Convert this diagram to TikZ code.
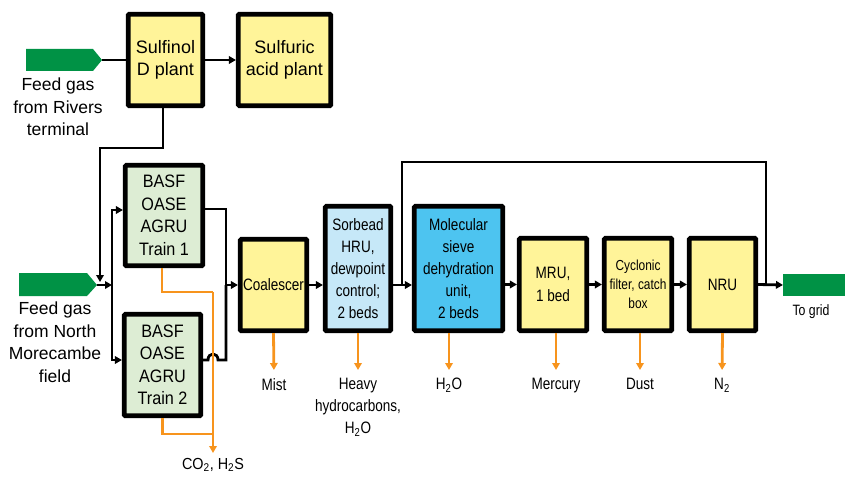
\documentclass[tikz,border=0pt]{standalone}
\usepackage{fontspec}
\setmainfont{Liberation Sans}
\newfontfamily\condf{Liberation Sans}[FakeStretch=0.82]
\newfontfamily\semif{Liberation Sans}[FakeStretch=0.9]
\usetikzlibrary{arrows.meta}
\definecolor{yel}{RGB}{255,244,153}
\definecolor{lgrn}{RGB}{221,237,212}
\definecolor{lblue}{RGB}{198,232,248}
\definecolor{mblue}{RGB}{77,196,240}
\definecolor{feedgreen}{RGB}{0,146,69}
\definecolor{orng}{RGB}{247,148,29}
\begin{document}
\begin{tikzpicture}[x=1pt,y=-1pt,
  box/.style={draw=black, line width=4.6pt, rounded corners=1pt, align=center, inner sep=0pt},
  topfont/.style={font=\fontsize{18}{22.5}\selectfont},
  basffont/.style={font=\semif\fontsize{18}{22.5}\selectfont},
  lowfont/.style={font=\condf\fontsize{16.5}{22.2}\selectfont},
  smallfont/.style={font=\condf\fontsize{14.5}{19}\selectfont},
  lbl/.style={lowfont, align=center, inner sep=0pt, anchor=north},
  feedlbl/.style={font=\fontsize{17.5}{22.5}\selectfont, align=center, inner sep=0pt},
  ln/.style={line width=2.8pt},
  arr/.style={ln, -{Triangle[length=7pt,width=7.5pt]}},
  oline/.style={draw=orng, line width=2.8pt},
  oarr/.style={oline, -{Triangle[length=7pt,width=7.5pt]}, shorten >=8pt},
]
\useasboundingbox (0,0) rectangle (845,476);

% feed arrows (green)
\fill[feedgreen] (26,49) -- (93,49) -- (102,60) -- (93,71) -- (26,71) -- cycle;
\coordinate (rivtip) at (102,60);
\fill[feedgreen] (19,273) -- (87,273) -- (97,285) -- (87,296) -- (19,296) -- cycle;
\coordinate (nortip) at (97,285);
\fill[feedgreen] (783,274) rectangle (846,296);
\coordinate (gridtip) at (783,285);

\node[feedlbl] (rivlbl) at (58,107) {Feed gas\\from Rivers\\terminal};
\node[feedlbl] (norlbl) at (55,342) {Feed gas\\from North\\Morecambe\\field};
\node[font=\condf\fontsize{15}{18}\selectfont, inner sep=0pt] (gridlbl) at (811,312) {To grid};

% boxes
\node[box, topfont, fill=yel, minimum width=74.5pt, minimum height=91.5pt] (sulf) at (165.5,60) {Sulfinol\\D plant};
\node[box, topfont, fill=yel, minimum width=92.5pt, minimum height=91.5pt] (sulfa) at (284.5,60) {Sulfuric\\acid plant};
\node[box, basffont, fill=lgrn, minimum width=77.5pt, minimum height=100.5pt] (t1) at (164,215.5) {BASF\\OASE\\AGRU\\Train 1};
\node[box, basffont, fill=lgrn, minimum width=76.5pt, minimum height=101.5pt] (t2) at (162.5,365) {BASF\\OASE\\AGRU\\Train 2};
\node[box, lowfont, fill=yel, minimum width=66.5pt, minimum height=91.5pt] (coal) at (273.5,285) {Coalescer};
\node[box, lowfont, fill=lblue, minimum width=65.5pt, minimum height=124.5pt] (sorb) at (358,268.5) {Sorbead\\HRU,\\dewpoint\\control;\\2 beds};
\node[box, lowfont, fill=mblue, minimum width=88.5pt, minimum height=124.5pt] (mol) at (458.5,268.5) {Molecular\\sieve\\dehydration\\unit,\\2 beds};
\node[box, lowfont, fill=yel, minimum width=67.5pt, minimum height=92.5pt] (mru) at (553,284.5) {MRU,\\1 bed};
\node[box, smallfont, fill=yel, minimum width=67.5pt, minimum height=92.5pt] (cyc) at (638,284.5) {Cyclonic\\filter, catch\\box};
\node[box, lowfont, fill=yel, minimum width=66.5pt, minimum height=92.5pt] (nru) at (722.5,284.5) {NRU};

% labels below
\node[lbl] (mist) at (274,378) {Mist};
\node[lbl] (heavy) at (358,378) {Heavy\\hydrocarbons,\\H\textsubscript{2}O};
\node[lbl] (h2o) at (449,378) {H\textsubscript{2}O};
\node[lbl] (merc) at (556,378) {Mercury};
\node[lbl] (dust) at (640,378) {Dust};
\node[lbl] (n2) at (722,378) {N\textsubscript{2}};
\node[lbl, font=\semif\fontsize{16}{20}\selectfont] (co2) at (213,458) {CO\textsubscript{2}, H\textsubscript{2}S};

% top connectors
\draw[ln] (rivtip) -- (sulf.west |- rivtip);
\draw[arr] (sulf.east) -- (sulfa.west);
\coordinate (rj) at (100,282);
\draw[arr] ([xshift=-2.5pt]sulf.south) -- ++(0,40) -| (rj);

% feed split
\coordinate (split) at (112,285);
\draw[arr] (nortip) -- (split);
\draw[arr] (split) |- ([yshift=5.5pt]t1.west);
\draw[arr] (split) |- ([yshift=5pt]t2.west);

% train outputs
\coordinate (mx) at (226,285);
\draw[ln] ([yshift=6.5pt]t1.east) -| (mx);
\draw[ln] ([yshift=5pt]t2.east) -- (208,360) .. controls (208,352) and (218,352) .. (218,360) -| (mx);
\draw[arr] (mx) -- (coal.west);

% main line
\draw[arr] (coal.east) -- (sorb.west |- coal.east);
\draw[arr] (sorb.east |- coal.east) -- (mol.west |- coal.east);
\coordinate (byL) at (402,285);
\coordinate (byR) at (766,285);
\draw[ln] (byL) -- ++(0,-123) -| (byR);
\draw[arr] (mol.east |- mru.west) -- (mru.west);
\draw[arr] (mru.east) -- (cyc.west);
\draw[arr] (cyc.east) -- (nru.west);
\draw[arr] (nru.east) -- (gridtip);

% orange outputs
\coordinate (ox1) at (213,292);
\coordinate (ox2) at (213,434);
\draw[oline] ([xshift=-2pt]t1.south) |- (ox1);
\draw[oline] (t2.south) |- (ox2);
\draw[oarr, shorten >=5pt] (ox1) -- (co2.north);
\draw[oarr] (coal.south) -- (mist.north);
\draw[oarr] (sorb.south) -- (heavy.north);
\draw[oarr] (mol.south -| h2o.north) -- (h2o.north);
\draw[oarr] (mru.south -| merc.north) -- (merc.north);
\draw[oarr] (cyc.south -| dust.north) -- (dust.north);
\draw[oarr] (nru.south) -- (n2.north);
\end{tikzpicture}
\end{document}
